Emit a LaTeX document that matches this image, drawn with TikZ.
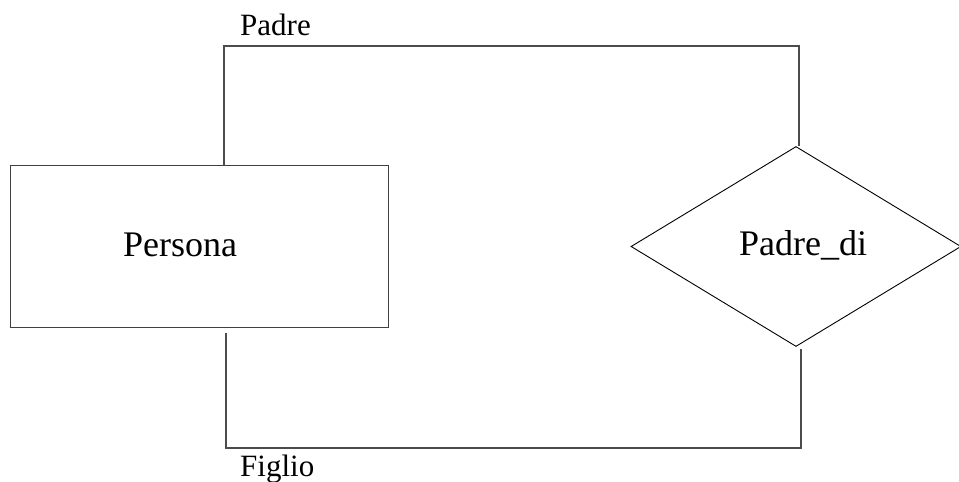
\documentclass[tikz,border=0pt]{standalone}
\usepackage{fontspec}
\setmainfont{Liberation Serif}
\usetikzlibrary{shapes.geometric}
\begin{document}
\begin{tikzpicture}[x=1pt,y=-1pt,
  entity/.style={draw=black!75,line width=1pt,rectangle,minimum width=378pt,minimum height=162pt,inner sep=0pt},
  relation/.style={draw=black,line width=0.9pt,diamond,minimum width=330pt,minimum height=200pt,inner sep=0pt},
  conn/.style={draw=black!70,line width=1.1pt},
  bigtxt/.style={font=\fontsize{36}{40}\selectfont,inner sep=0pt},
  smalltxt/.style={font=\fontsize{31}{36}\selectfont,inner sep=0pt}]
\useasboundingbox (0,0) rectangle (959,482);
\node[entity] (p) at (199.5,246) {};
\node[bigtxt,anchor=base west] (pt) at (123,256.5) {Persona};
\node[relation] (d) at (796,246.5) {};
\node[bigtxt,anchor=base west] (dt) at (739,255) {Padre\_di};
\coordinate (tl) at (224,46);
\coordinate (tr) at (799,46);
\coordinate (bl) at (226,448);
\coordinate (br) at (801,448);
\draw[conn] (tl |- p.north) -- (tl) -- (tr) -- (tr |- d.north);
\draw[conn] ([yshift=-5pt]bl |- p.south) -- (bl) -- (br) -- ([yshift=-2pt]br |- d.south);
\node[smalltxt,anchor=base west] (padre) at (240,35) {Padre};
\node[smalltxt,anchor=base west] (figlio) at (240,476.5) {Figlio};
\end{tikzpicture}
\end{document}
